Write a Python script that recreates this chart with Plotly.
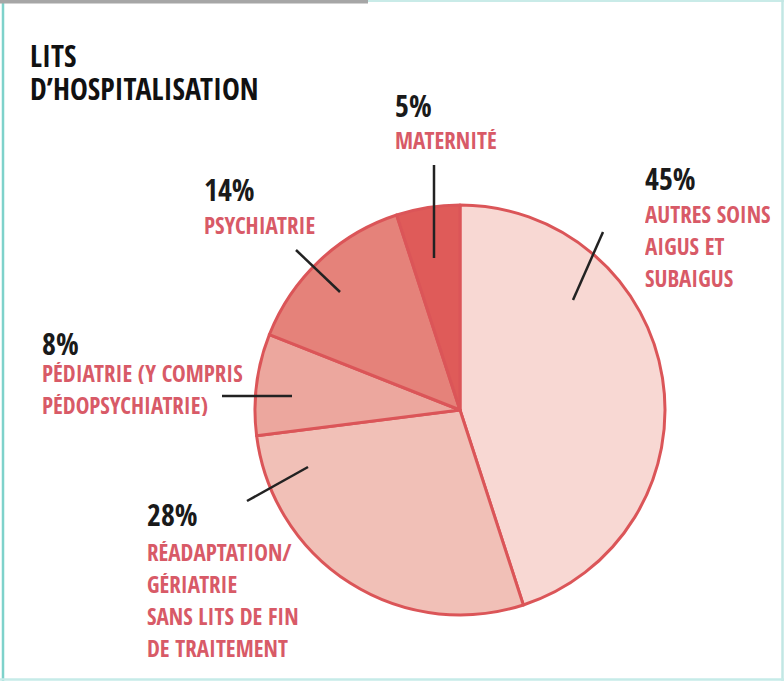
import plotly.graph_objects as go

W, H = 784, 681

# Share of hospital beds by type of care (percent)
categories = [
    "Autres soins aigus et subaigus",
    "Réadaptation/gériatrie sans lits de fin de traitement",
    "Pédiatrie (y compris pédopsychiatrie)",
    "Psychiatrie",
    "Maternité",
]
values = [45, 28, 8, 14, 5]
label_lines = [
    ["AUTRES SOINS", "AIGUS ET", "SUBAIGUS"],
    ["RÉADAPTATION/", "GÉRIATRIE", "SANS LITS DE FIN", "DE TRAITEMENT"],
    ["PÉDIATRIE (Y COMPRIS", "PÉDOPSYCHIATRIE)"],
    ["PSYCHIATRIE"],
    ["MATERNITÉ"],
]
title_lines = ["LITS", "D’HOSPITALISATION"]
slice_colors = ["#f8d8d3", "#f1c0b7", "#eca79e", "#e5827a", "#df5b59"]

# label block placement (px): left edge, number cap top, first label line top
label_pos = [(646, 170, 207), (148, 506, 545), (43, 335, 366), (205, 181, 218), (396, 97, 133)]
line_pitch = 32
# leader lines (px)
leaders = [
    ((603, 232), (573, 300)),
    ((247, 501), (308, 467)),
    ((222, 396), (292, 396)),
    ((296, 250), (340, 292)),
    ((434, 165), (434, 258)),
]

FONT = "Open Sans Condensed, Roboto Condensed, sans-serif"
RED = "#d85a67"


def px(x):
    return x / W


def py(y):
    return 1 - y / H


# pie disc: centre (460, 410), radius 205
cx, cy, r = 460, 410, 205

fig = go.Figure(
    go.Pie(
        labels=categories,
        values=values,
        sort=False,
        direction="clockwise",
        rotation=0,
        marker=dict(colors=slice_colors, line=dict(color="#db5558", width=3)),
        textinfo="none",
        hoverinfo="label+percent",
        domain=dict(x=[px(cx - r), px(cx + r)], y=[py(cy + r), py(cy - r)]),
        showlegend=False,
    )
)

annotations = []
# title, one line at a time for tight leading
for i, t in enumerate(title_lines):
    annotations.append(dict(
        x=px(28), y=py(45 - 6 + i * 33), xref="paper", yref="paper", xanchor="left", yanchor="top",
        text=f"<b>{t}</b>", showarrow=False, align="left", height=28, valign="middle",
        font=dict(family=FONT, size=30, color="#111111"),
    ))

for v, lines, (lx, ny, ly) in zip(values, label_lines, label_pos):
    annotations.append(dict(
        x=px(lx - 3), y=py(ny - 7), xref="paper", yref="paper", xanchor="left", yanchor="top",
        text=f"<b>{v}%</b>", showarrow=False, align="left", height=26, valign="middle",
        font=dict(family=FONT, size=30, color="#1a1a1a"),
    ))
    for i, line in enumerate(lines):
        annotations.append(dict(
            x=px(lx - 3), y=py(ly - 6 + i * line_pitch), xref="paper", yref="paper",
            xanchor="left", yanchor="top", height=22, valign="middle",
            text=f"<b>{line}</b>", showarrow=False, align="left",
            font=dict(family=FONT, size=23, color=RED),
        ))

shapes = []
for (x0, y0), (x1, y1) in leaders:
    shapes.append(dict(type="line", xref="paper", yref="paper",
                       x0=px(x0), y0=py(y0), x1=px(x1), y1=py(y1),
                       line=dict(color="#222222", width=2.5)))

# frame
shapes += [
    dict(type="line", xref="paper", yref="paper", x0=px(3), y0=py(0), x1=px(3), y1=py(H),
         line=dict(color="#7ed2cb", width=2.5)),
    dict(type="line", xref="paper", yref="paper", x0=px(368), y0=py(1), x1=px(W), y1=py(1),
         line=dict(color="#c9ebe8", width=2)),
    dict(type="line", xref="paper", yref="paper", x0=px(0), y0=py(1.5), x1=px(368), y1=py(1.5),
         line=dict(color="#a6a6a6", width=4)),
    dict(type="line", xref="paper", yref="paper", x0=px(W - 1.5), y0=py(0), x1=px(W - 1.5), y1=py(H),
         line=dict(color="#c2e7e4", width=2.5)),
    dict(type="line", xref="paper", yref="paper", x0=px(0), y0=py(H - 1.5), x1=px(W), y1=py(H - 1.5),
         line=dict(color="#c6ebe8", width=2.5)),
]

fig.update_layout(
    width=W, height=H,
    margin=dict(l=0, r=0, t=0, b=0),
    paper_bgcolor="white", plot_bgcolor="white",
    annotations=annotations, shapes=shapes,
)

fig.write_html("out.html")
